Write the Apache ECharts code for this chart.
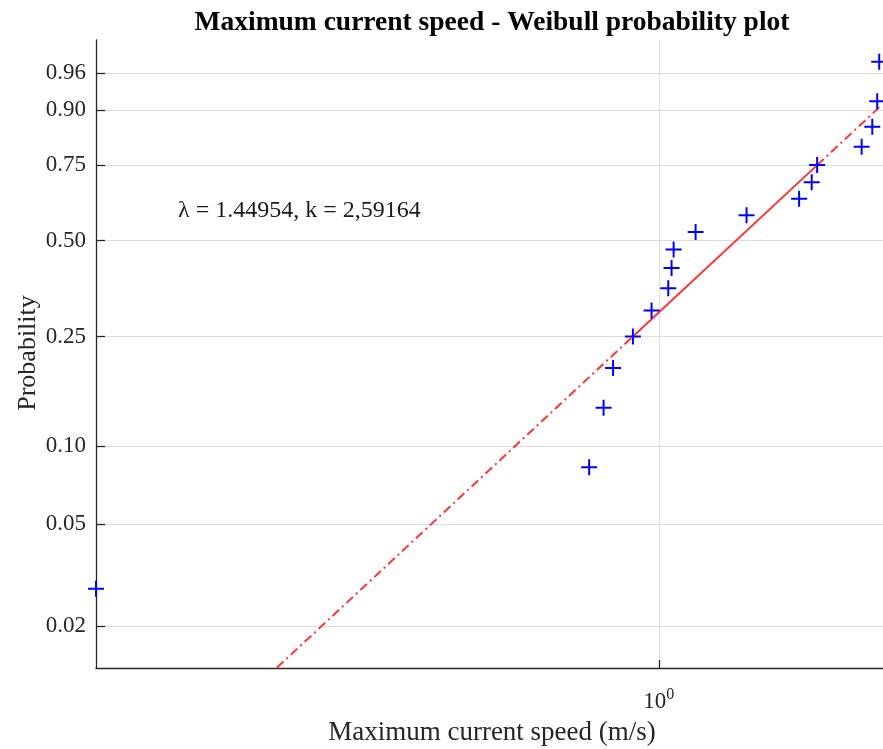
<!DOCTYPE html>
<html><head><meta charset="utf-8">
<script src="https://cdn.jsdelivr.net/npm/echarts@6/dist/echarts.min.js"></script>
<style>html,body{margin:0;padding:0;background:#fff}#c{width:883px;height:749px}</style>
</head><body><div id="c"></div>
<script>
// Data
const speeds = [0.163, 0.799, 0.837, 0.863, 0.920, 0.977, 1.031, 1.042, 1.049, 1.126, 1.327, 1.572, 1.637, 1.666, 1.923, 1.990, 2.022, 2.035];
const probs = [0.028, 0.083, 0.139, 0.194, 0.250, 0.306, 0.361, 0.417, 0.472, 0.528, 0.583, 0.639, 0.694, 0.750, 0.806, 0.861, 0.917, 0.972];
const probTicks = [0.02, 0.05, 0.10, 0.25, 0.50, 0.75, 0.90, 0.96];
const xTicks = [1];
const xRange = [0.163, 2.06];
const probRange = [0.01364, 0.98735];
const titleText = 'Maximum current speed - Weibull probability plot';
const xName = 'Maximum current speed (m/s)';
const yName = 'Probability';
const fitText = 'λ = 1.44954, k = 2,59164';

// Weibull probability scale transform
const toT = p => Math.log(-Math.log(1 - p));
const fromT = t => 1 - Math.exp(-Math.exp(t));

// reference line through the quartile points
const q1 = 4, q3 = 13;
const slope = (toT(probs[q3]) - toT(probs[q1])) / (Math.log(speeds[q3]) - Math.log(speeds[q1]));
const lineT = x => toT(probs[q1]) + slope * (Math.log(x) - Math.log(speeds[q1]));
const xLo = Math.min(...speeds), xHi = Math.max(...speeds);
const seg = (a, b) => [[a, lineT(a)], [b, lineT(b)]];

const FONT = 'Liberation Serif';
const chart = echarts.init(document.getElementById('c'), null, {renderer: 'canvas'});
const dashDot = [9, 4, 2, 4];
chart.setOption({
  animation: false,
  backgroundColor: '#fff',
  grid: {left: 96, right: 0, top: 40, bottom: 81},
  xAxis: {
    type: 'log', logBase: 10, min: xRange[0], max: xRange[1],
    axisLine: {show: true, onZero: false, lineStyle: {color: '#262626', width: 1.3}},
    axisTick: {show: true, inside: true, length: 8, lineStyle: {color: '#262626', width: 1.3}, customValues: xTicks},
    axisLabel: {
      show: true, margin: 19, customValues: xTicks,
      formatter: v => Math.abs(v - 1) < 1e-6 ? '{b|10}{s|0}' : '',
      rich: {
        b: {fontFamily: FONT, fontSize: 23, color: '#262626', lineHeight: 26, verticalAlign: 'bottom'},
        s: {fontFamily: FONT, fontSize: 16, color: '#262626', lineHeight: 26, verticalAlign: 'top', padding: [0, 0, 12, 0]}
      }
    },
    splitLine: {show: true, lineStyle: {color: '#dcdcdc', width: 1}},
    minorTick: {show: false}, minorSplitLine: {show: false}
  },
  yAxis: {
    type: 'value', min: toT(probRange[0]), max: toT(probRange[1]),
    axisLine: {show: true, onZero: false, lineStyle: {color: '#262626', width: 1.3}},
    axisTick: {show: true, inside: true, length: 9, lineStyle: {color: '#262626', width: 1.3}, customValues: probTicks.map(toT)},
    axisLabel: {show: true, margin: 10, customValues: probTicks.map(toT), fontFamily: FONT, fontSize: 23, color: '#262626',
      formatter: v => fromT(v).toFixed(2)},
    splitLine: {show: true, lineStyle: {color: '#dcdcdc', width: 1}}
  },
  graphic: [
    {type: 'text', x: 492, y: 23, style: {text: titleText, fontFamily: FONT, fontWeight: 'bold', fontSize: 27.5, fill: '#000', align: 'center', verticalAlign: 'middle'}},
    {type: 'text', x: 492, y: 733, style: {text: xName, fontFamily: FONT, fontSize: 27, fill: '#262626', align: 'center', verticalAlign: 'middle'}},
    {type: 'text', x: 28, y: 353, rotation: Math.PI / 2, style: {text: yName, fontFamily: FONT, fontSize: 26, fill: '#262626', align: 'center', verticalAlign: 'middle'}},
    {type: 'text', x: 178, y: 211, style: {text: fitText, fontFamily: FONT, fontSize: 24, fill: '#1a1a1a', align: 'left', verticalAlign: 'middle'}}
  ],
  series: [
    {type: 'line', data: seg(xLo, speeds[q1]), symbol: 'none', clip: true, lineStyle: {color: '#ff3333', width: 2, type: dashDot}, z: 2},
    {type: 'line', data: seg(speeds[q1], speeds[q3]), symbol: 'none', clip: true, lineStyle: {color: '#ff3333', width: 2, type: 'solid'}, z: 2},
    {type: 'line', data: seg(speeds[q3], xHi), symbol: 'none', clip: true, lineStyle: {color: '#ff3333', width: 2, type: dashDot}, z: 2},
    {type: 'scatter', data: speeds.map((x, i) => [x, toT(probs[i])]), clip: false,
      symbol: 'path://M7,0H9V7H16V9H9V16H7V9H0V7H7Z', symbolSize: 16,
      itemStyle: {color: '#0000ff', opacity: 1}, z: 3}
  ]
});
</script></body></html>
